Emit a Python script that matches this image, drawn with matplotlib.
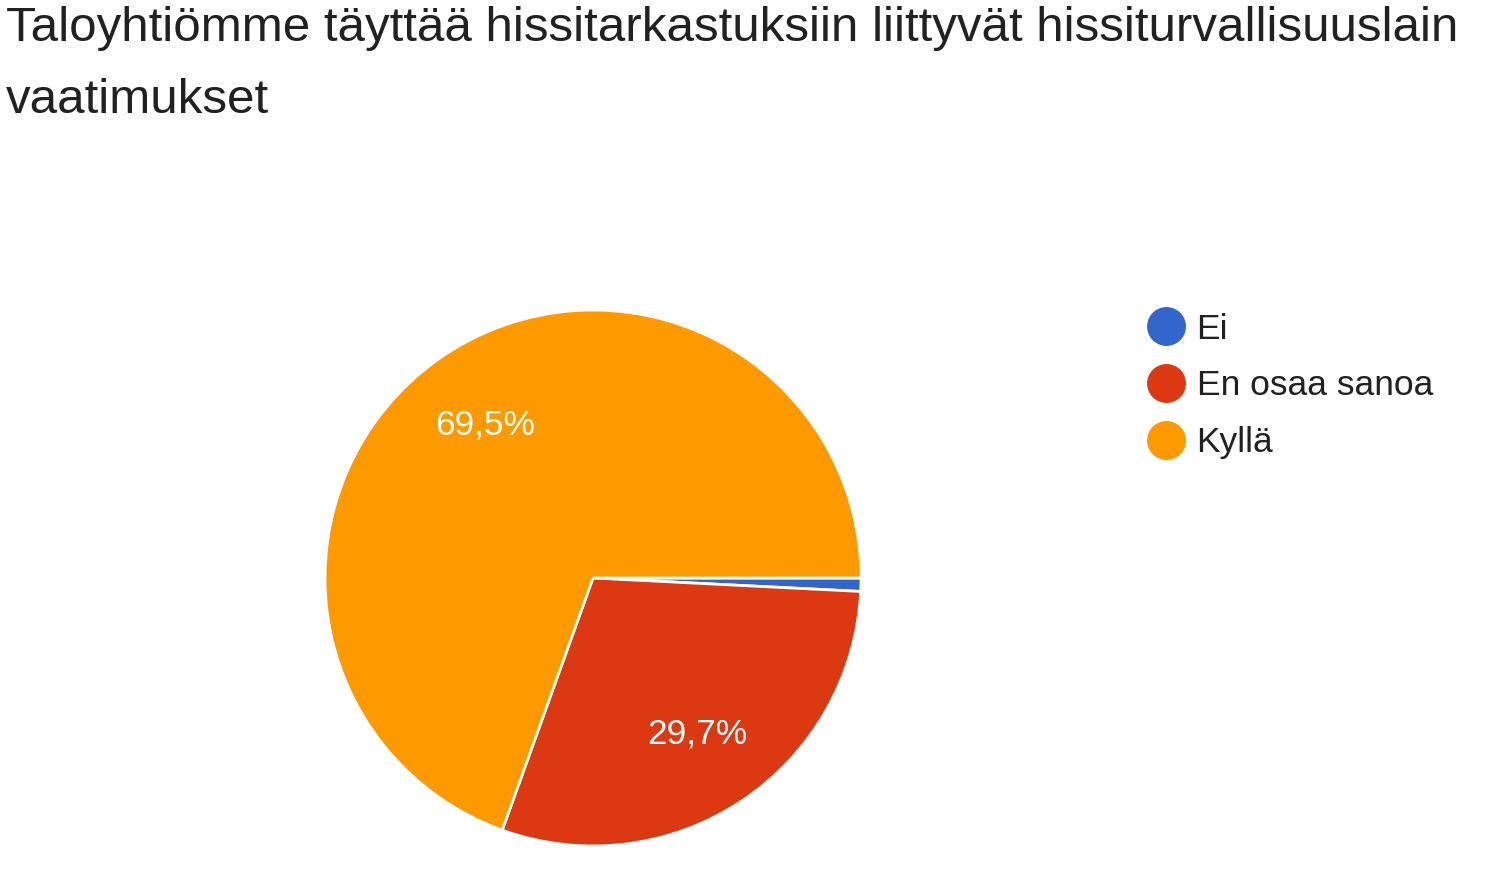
import matplotlib.pyplot as plt
from matplotlib.lines import Line2D

plt.rcParams['font.family'] = ['Liberation Sans', 'DejaVu Sans']

# data
labels = ["Ei", "En osaa sanoa", "Kyllä"]
values = [0.8, 29.7, 69.5]
colors = ["#3366cc", "#dc3912", "#ff9900"]
title = "Taloyhtiömme täyttää hissitarkastuksiin liittyvät hissiturvallisuuslain\nvaatimukset"

W, H = 1485, 876
fig = plt.figure(figsize=(W / 100, H / 100), dpi=100)

fig.text(6 / W, 1 - 6 / H, title, ha="left", va="top", fontsize=35.5,
         color="#212121", linespacing=1.78)

# pie axes (center ~593,578 r ~268 px)
cx, cy, r = 593, 578, 268
ax = fig.add_axes([(cx - r) / W, (H - cy - r) / H, 2 * r / W, 2 * r / H])


def fmt(p):
    return ("%.1f%%" % p).replace(".", ",") if p > 5 else ""


wedges, _, autotexts = ax.pie(values, colors=colors, startangle=0, counterclock=False,
                              autopct=fmt, pctdistance=0.7,
                              wedgeprops=dict(edgecolor="white", linewidth=2))
for t in autotexts:
    t.set_color("white")
    t.set_fontsize(25.5)
ax.set_xlim(-1, 1)
ax.set_ylim(-1, 1)
ax.set_aspect("equal")

handles = [Line2D([], [], marker="o", linestyle="", markersize=27,
                  markerfacecolor=c, markeredgecolor=c) for c in colors]
fig.legend(handles, labels, loc="upper left", bbox_to_anchor=(1131 / W, 1 - 295 / H),
           frameon=False, fontsize=25.5, handlelength=1.0, handletextpad=0.35,
           labelspacing=0.67, borderpad=0, labelcolor="#212121")

fig.savefig("out.png", dpi=100)
